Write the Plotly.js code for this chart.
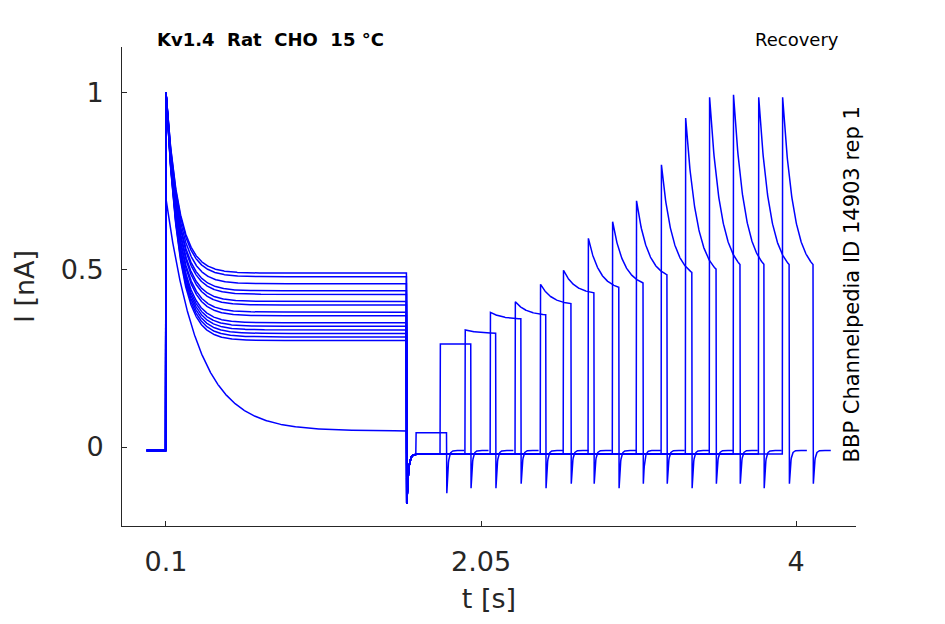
<!DOCTYPE html>
<html><head><meta charset="utf-8">
<script src="https://cdn.plot.ly/plotly-3.0.1.min.js"></script>
<style>body{margin:0}#c{width:945px;height:624px}</style></head>
<body><div id="c"></div>
<script>
// per-sweep parameters
const firstPeak   = [0.70,1,1,1,1,1,1,1,1,1,1,1,1,1,1,1];
const firstSteady = [0.045,0.30,0.31,0.32,0.33,0.34,0.35,0.37,0.38,0.40,0.41,0.43,0.44,0.46,0.48,0.49];
const firstTau    = [0.20,0.08,0.08,0.08,0.08,0.08,0.08,0.08,0.08,0.08,0.08,0.08,0.08,0.08,0.08,0.08];
const secondStart = [1.648,1.797,1.951,2.106,2.261,2.416,2.558,2.713,2.862,3.010,3.165,3.314,3.462,3.611,3.766,3.914];
const secondPeak  = [0.04,0.29,0.33,0.38,0.41,0.46,0.50,0.59,0.64,0.70,0.80,0.94,1,1,1,1];
const secondSteady= [0.04,0.29,0.32,0.36,0.37,0.40,0.43,0.44,0.45,0.47,0.47,0.47,0.48,0.48,0.48,0.48];
const xTicks=[0.1,2.05,4], yTicks=[0,0.5,1];

const stepOn=0.1, stepOff=1.59, pulseLen=0.19, dt=0.002;
const traces=[];
for(let i=0;i<firstPeak.length;i++){
  const x=[],y=[];
  const tEnd=secondStart[i]+pulseLen;
  for(let t=-0.02;t<=tEnd+0.11;t+=dt){
    let v;
    if(t<stepOn) v=-0.01;
    else if(t<stepOff){const s=t-stepOn; v=firstSteady[i]+(firstPeak[i]-firstSteady[i])*Math.exp(-s/firstTau[i]);}
    else if(t<secondStart[i]){const s=t-stepOff; v=-0.02-0.14*Math.exp(-s/0.01);}
    else if(t<tEnd){const s=t-secondStart[i]; v=secondSteady[i]+(secondPeak[i]-secondSteady[i])*Math.exp(-s/0.07);}
    else {const s=t-tEnd; v=-0.01-0.12*Math.exp(-s/0.008);}
    x.push(t);y.push(v);
  }
  traces.push({x,y,type:'scatter',mode:'lines',line:{color:'#0000ff',width:1.5},showlegend:false,hoverinfo:'skip'});
}
const f='DejaVu Sans, sans-serif';
Plotly.newPlot('c',traces,{
  width:945,height:624,margin:{l:122,r:89,t:47,b:98},
  paper_bgcolor:'white',plot_bgcolor:'white',
  xaxis:{range:[-0.172,4.37],tickvals:xTicks,ticktext:['0.1','2.05','4'],showgrid:false,zeroline:false,
    showline:true,linecolor:'#262626',ticks:'inside',ticklen:5,tickcolor:'#262626',ticklabelstandoff:12,tickfont:{family:f,size:27,color:'#262626'},
    title:{text:'t [s]',font:{family:f,size:27,color:'#262626'},standoff:12}},
  yaxis:{range:[-0.2225,1.127],tickvals:yTicks,ticktext:['0','0.5','1'],showgrid:false,zeroline:false,
    showline:true,linecolor:'#262626',ticks:'inside',ticklen:5,tickcolor:'#262626',ticklabelstandoff:12,tickfont:{family:f,size:27,color:'#262626'},
    title:{text:'I [nA]',font:{family:f,size:27,color:'#262626'},standoff:18}},
  annotations:[
    {text:'<b>Kv1.4  Rat  CHO  15 °C</b>',xref:'paper',yref:'paper',x:0.045,y:0.99,xanchor:'left',yanchor:'bottom',showarrow:false,font:{family:f,size:18,color:'black'}},
    {text:'Recovery',xref:'paper',yref:'paper',x:0.98,y:0.99,xanchor:'right',yanchor:'bottom',showarrow:false,font:{family:f,size:18,color:'black'}},
    {text:'BBP Channelpedia ID 14903 rep 1',xref:'paper',yref:'paper',x:0.995,y:0.505,xanchor:'center',yanchor:'middle',textangle:-90,showarrow:false,font:{family:f,size:21,color:'black'}}
  ]
},{displayModeBar:false});
</script></body></html>
